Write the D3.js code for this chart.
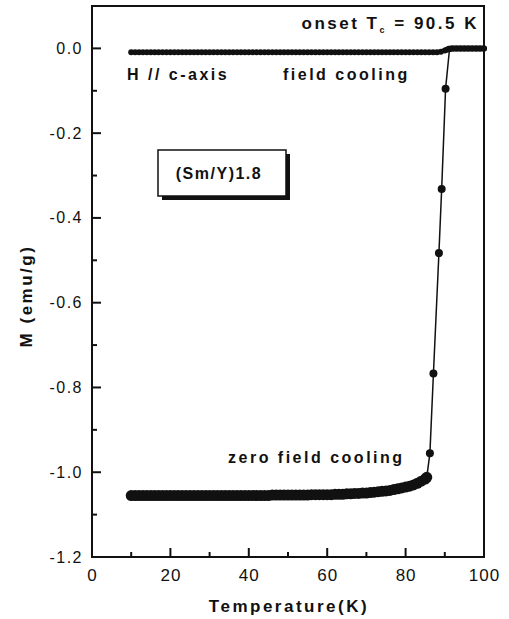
<!DOCTYPE html>
<head>
  <meta charset="utf-8">
  <title>M vs T</title>
  <script src="https://d3js.org/d3.v7.min.js"></script>
  <style>
    body { margin: 0; background: #fff; }
    svg { display: block; }
    text { font-family: 'Liberation Sans', Arial, sans-serif; fill: #111; }
    .y-label { font-size: 16px; letter-spacing: 1.5px; }
    .x-label { font-size: 17px; letter-spacing: 1px; }
    .ann { font-size: 16px; font-weight: 700; letter-spacing: 2.5px; }
    .axis-title { font-size: 17px; font-weight: 700; letter-spacing: 2.5px; }
    .frame { fill: none; stroke: #111; stroke-width: 2; }
    .tick { stroke: #111; stroke-width: 2; }
  </style>
</head>
<body>
<script>
  // field cooling, T in K
  var fcT = [10,11,12,13,14,15,16,17,18,19,20,21,22,23,24,25,26,27,28,29,30,
             31,32,33,34,35,36,37,38,39,40,41,42,43,44,45,46,47,48,49,50,
             51,52,53,54,55,56,57,58,59,60,61,62,63,64,65,66,67,68,69,70,
             71,72,73,74,75,76,77,78,79,80,81,82,83,84,85,86,87,88,89,90,
             90.5,91,91.5,92,92.5,93,93.5,94,94.5,95,95.5,96,96.5,97,97.5,98,98.5,99,99.5,100];
  var fcM = [-0.009,-0.009,-0.009,-0.009,-0.009,-0.009,-0.009,-0.009,-0.009,-0.009,-0.009,-0.009,-0.009,-0.009,-0.009,-0.009,-0.009,-0.009,-0.009,-0.009,-0.009,
             -0.009,-0.009,-0.009,-0.009,-0.009,-0.009,-0.009,-0.009,-0.009,-0.009,-0.009,-0.009,-0.009,-0.009,-0.009,-0.009,-0.009,-0.009,-0.009,-0.009,
             -0.009,-0.009,-0.009,-0.009,-0.009,-0.009,-0.009,-0.009,-0.009,-0.009,-0.009,-0.009,-0.009,-0.009,-0.009,-0.009,-0.009,-0.009,-0.009,-0.009,
             -0.009,-0.009,-0.009,-0.009,-0.009,-0.009,-0.009,-0.009,-0.009,-0.009,-0.009,-0.009,-0.009,-0.009,-0.009,-0.009,-0.009,-0.009,-0.008,-0.005,
             -0.003,-0.001,0,0,0,0,0,0,0,0,0,0,0,0,0,0,0,0,0,0,0];

  // zero field cooling
  var zfcT = [10,11,12,13,14,15,16,17,18,19,20,21,22,23,24,25,26,27,28,29,30,
              31,32,33,34,35,36,37,38,39,40,41,42,43,44,45,46,47,48,49,50,
              51,52,53,54,55,56,57,58,59,60,61,62,63,64,65,66,67,68,69,70,
              71,72,73,74,75,76,77,78,79,80,81,82,83,84,85,85.4,
              86.2,87.1,88.5,89.2,90.2,91.2,92,93,94,95,96,97,98,99,100];
  var zfcM = [-1.055,-1.055,-1.055,-1.055,-1.055,-1.055,-1.055,-1.055,-1.055,-1.055,-1.055,-1.055,-1.055,-1.055,-1.055,-1.055,-1.055,-1.055,-1.055,-1.055,-1.055,
              -1.055,-1.055,-1.055,-1.055,-1.055,-1.055,-1.055,-1.055,-1.055,-1.055,-1.055,-1.055,-1.055,-1.055,-1.055,-1.054,-1.054,-1.054,-1.054,-1.054,
              -1.054,-1.054,-1.054,-1.054,-1.054,-1.053,-1.053,-1.053,-1.053,-1.053,-1.053,-1.052,-1.052,-1.052,-1.051,-1.051,-1.050,-1.050,-1.049,-1.049,
              -1.048,-1.047,-1.046,-1.045,-1.044,-1.043,-1.041,-1.039,-1.037,-1.035,-1.033,-1.030,-1.026,-1.021,-1.016,-1.012,
              -0.955,-0.767,-0.483,-0.332,-0.095,-0.002,0,0,0,0,0,0,0,0,0];

  var xTicks = [0,20,40,60,80,100];
  var xMinor = [10,30,50,70,90];
  var yTicks = [-1.2,-1.0,-0.8,-0.6,-0.4,-0.2,0.0];
  var yMinor = [-1.1,-0.9,-0.7,-0.5,-0.3,-0.1];

  var W = 509, H = 619;
  var svg = d3.select("body").append("svg").attr("width", W).attr("height", H);

  var x = d3.scaleLinear().domain([0, 100]).range([92, 484]);
  var y = d3.scaleLinear().domain([-1.2, 0.1]).range([557, 6]);

  var fc = fcT.map((t, i) => ({t: t, m: fcM[i]}));
  var zfc = zfcT.map((t, i) => ({t: t, m: zfcM[i]}));

  var line = d3.line().x(d => x(d.t)).y(d => y(d.m));
  var fmtY = d => d3.format(".1f")(d).replace("\u2212", "-");

  // ticks, pointing into the plot
  var ticks = svg.append("g");
  ticks.selectAll(".xt").data(xTicks.concat(xMinor)).enter().append("line")
    .attr("class", "tick")
    .attr("x1", d => x(d)).attr("x2", d => x(d))
    .attr("y1", y(-1.2)).attr("y2", d => y(-1.2) - (xTicks.includes(d) ? 9 : 5));
  ticks.selectAll(".yt").data(yTicks.concat(yMinor)).enter().append("line")
    .attr("class", "tick")
    .attr("y1", d => y(d)).attr("y2", d => y(d))
    .attr("x1", x(0)).attr("x2", d => x(0) + (yTicks.includes(d) ? 9 : 5));

  svg.append("g").selectAll("text").data(xTicks).enter().append("text")
    .attr("class", "x-label")
    .attr("x", d => x(d) + 0.5).attr("y", 581)
    .attr("text-anchor", "middle").text(d => d);
  svg.append("g").selectAll("text").data(yTicks).enter().append("text")
    .attr("class", "y-label")
    .attr("x", 83).attr("y", d => y(d) + 5.5)
    .attr("text-anchor", "end").text(fmtY);

  // frame
  svg.append("rect").attr("class", "frame")
    .attr("x", x(0)).attr("y", y(0.1))
    .attr("width", x(100) - x(0)).attr("height", y(-1.2) - y(0.1));

  // series
  svg.append("path").datum(fc).attr("d", line)
    .attr("fill", "none").attr("stroke", "#111").attr("stroke-width", 1.5);
  svg.append("g").selectAll("circle").data(fc).enter().append("circle")
    .attr("cx", d => x(d.t)).attr("cy", d => y(d.m)).attr("r", 3).attr("fill", "#111");

  svg.append("path").datum(zfc).attr("d", line)
    .attr("fill", "none").attr("stroke", "#111").attr("stroke-width", 1.5);
  svg.append("g").selectAll("circle").data(zfc).enter().append("circle")
    .attr("cx", d => x(d.t)).attr("cy", d => y(d.m))
    .attr("r", d => d.t < 85.5 ? 5.5 : (d.t < 91 ? 4 : 3)).attr("fill", "#111");

  // annotations
  var onset = svg.append("text").attr("class", "ann")
    .attr("x", 479).attr("y", 29).attr("text-anchor", "end").style("font-size", "17px");
  onset.append("tspan").text("onset T");
  onset.append("tspan").attr("font-size", "9px").attr("dy", 4).text("c");
  onset.append("tspan").attr("dy", -4).text(" = 90.5 K");

  svg.append("text").attr("class", "ann").attr("x", 127).attr("y", 80).text("H // c-axis");
  svg.append("text").attr("class", "ann").attr("x", 283).attr("y", 80).text("field cooling");
  svg.append("text").attr("class", "ann").attr("x", 228).attr("y", 463).text("zero field cooling");

  // boxed sample label with shadow
  svg.append("rect").attr("x", 162).attr("y", 154).attr("width", 128).attr("height", 46).attr("fill", "#111");
  svg.append("rect").attr("x", 158).attr("y", 150).attr("width", 128).attr("height", 46)
    .attr("fill", "#fff").attr("stroke", "#111").attr("stroke-width", 1.5);
  svg.append("text").attr("class", "ann").attr("x", 219).attr("y", 179)
    .attr("text-anchor", "middle").style("letter-spacing", "1.5px").text("(Sm/Y)1.8");

  // axis titles
  svg.append("text").attr("class", "axis-title")
    .attr("x", 289).attr("y", 612).attr("text-anchor", "middle").text("Temperature(K)");
  svg.append("text").attr("class", "axis-title")
    .attr("transform", "translate(32,296) rotate(-90)")
    .attr("text-anchor", "middle").text("M (emu/g)");
</script>
</body>
